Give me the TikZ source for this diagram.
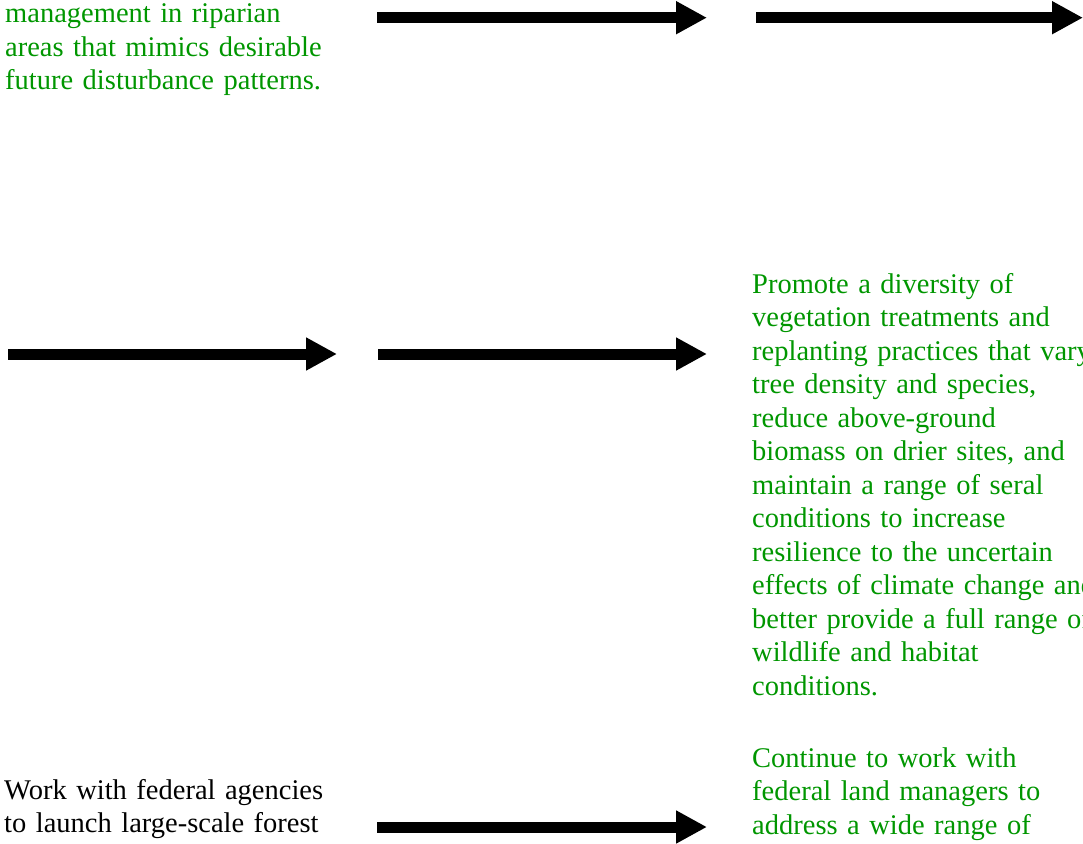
\documentclass[tikz,border=0pt]{standalone}
\usepackage{fontspec}
\setmainfont{Liberation Serif}
\usepackage{tikz}
\usetikzlibrary{positioning,arrows.meta}
\definecolor{goalgreen}{RGB}{0,150,0}

\begin{document}
\begin{tikzpicture}[x=1pt, y=-1pt,
    note/.style={anchor=base west, inner sep=0pt, align=left,
                 text width=420pt, font=\fontsize{28.5}{33.5}\selectfont},
    flow/.style={line width=11pt,
                 -{Triangle[length=31pt, width=31pt]}},
]
\clip (0,0) rectangle (1083,843);

\node[note, text=goalgreen] (riparian) at (5,23)
    {management in riparian\\
     areas that mimics desirable\\
     future disturbance patterns.};
\node[note, text=goalgreen] (promote) at (752,293)
    {Promote a diversity of\\
     vegetation treatments and\\
     replanting practices that vary\\
     tree density and species,\\
     reduce above-ground\\
     biomass on drier sites, and\\
     maintain a range of seral\\
     conditions to increase\\
     resilience to the uncertain\\
     effects of climate change and\\
     better provide a full range of\\
     wildlife and habitat\\
     conditions.};
\node[note] (federal) at (4,799)
    {Work with federal agencies\\
     to launch large-scale forest};
\node[note, text=goalgreen] (continue) at (752,767)
    {Continue to work with\\
     federal land managers to\\
     address a wide range of};

% arrow ends
\coordinate (t1s) at (377,17.7);  \coordinate (t1e) at (707,17.7);
\coordinate (t2s) at (756,17.7);  \coordinate (t2e) at (1083,17.7);
\coordinate (m1s) at (8,354);     \coordinate (m1e) at (337,354);
\coordinate (m2s) at (378,354);   \coordinate (m2e) at (707,354);
\coordinate (b1s) at (377,827);   \coordinate (b1e) at (707,827);

\draw[flow] (t1s) -- (t1e);
\draw[flow] (t2s) -- (t2e);
\draw[flow] (m1s) -- (m1e);
\draw[flow] (m2s) -- (m2e);
\draw[flow] (b1s) -- (b1e);
\end{tikzpicture}
\end{document}
